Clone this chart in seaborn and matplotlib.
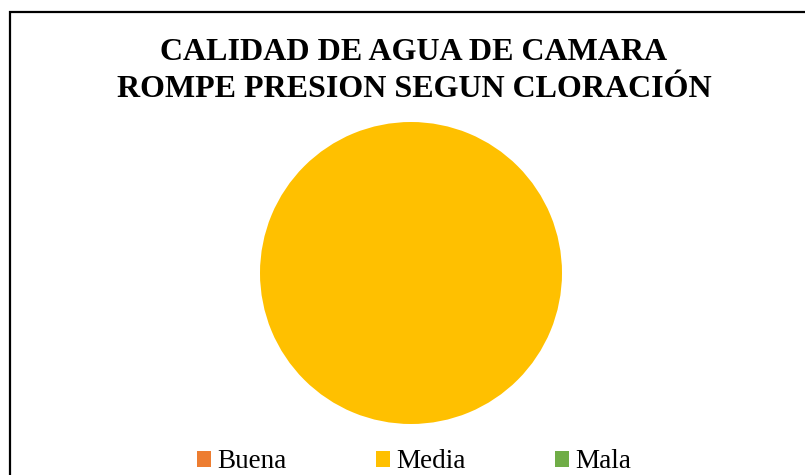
import matplotlib
matplotlib.use("Agg")
import matplotlib.pyplot as plt
from matplotlib.patches import Rectangle
import seaborn as sns

# Chlorination-based water quality categories for the pressure-break chamber
categories = ["Buena", "Media", "Mala"]
counts = [0, 1, 0]
colors = ["#ED7D31", "#FFC000", "#70AD47"]
title = "CALIDAD DE AGUA DE CAMARA\nROMPE PRESION SEGUN CLORACIÓN"

sns.set_theme(style="white")
plt.rcParams["font.family"] = ["Liberation Serif", "DejaVu Serif"]
plt.rcParams["text.color"] = "black"

W, H = 805, 475
fig = plt.figure(figsize=(W / 100, H / 100), dpi=100)
fig.patch.set_facecolor("white")

# chart frame (runs off the right and bottom edges)
fig.patches.append(Rectangle((10 / W, -0.05), 1.0, 1 - 12 / H + 0.05,
                             transform=fig.transFigure, fill=False,
                             edgecolor="black", linewidth=1.6))

cx, cy, r = 411, 273, 151
ax = fig.add_axes([(cx - r) / W, 1 - (cy + r) / H, 2 * r / W, 2 * r / H])
wedges, _ = ax.pie(counts, colors=colors, startangle=90, counterclock=False,
                   radius=1.0, wedgeprops=dict(linewidth=0, edgecolor="none"))
ax.set_xlim(-1, 1)
ax.set_ylim(-1, 1)
ax.set_aspect("equal")
ax.axis("off")

fig.text(414 / W, 1 - 71 / H, title, ha="center", va="center",
         fontsize=23, fontweight="bold", linespacing=1.4, color="black")

leg = fig.legend(wedges, categories, loc="center", ncol=3,
                 bbox_to_anchor=(414 / W, 1 - 462 / H), frameon=False,
                 fontsize=19.5, handlelength=0.52, handleheight=0.52,
                 handletextpad=0.22, columnspacing=3.3, borderpad=0)
for t in leg.get_texts():
    t.set_color("black")

fig.savefig("out.png", dpi=100, facecolor="white")
